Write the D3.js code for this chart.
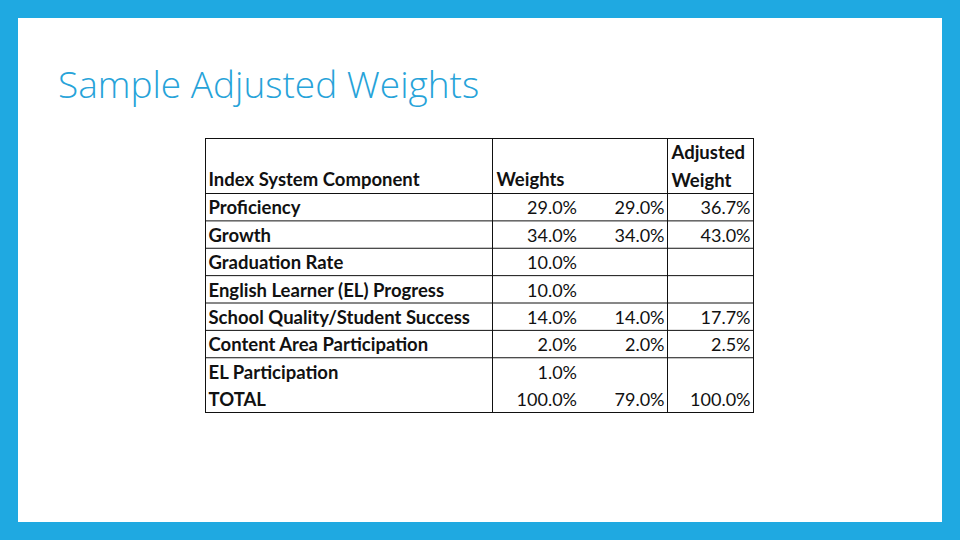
<!DOCTYPE html>
<html>
<head>
<meta charset="utf-8">
<script src="https://cdn.jsdelivr.net/npm/d3@7"></script>
<style>
  html, body { margin: 0; padding: 0; background: #1FA9E1; }
  svg { display: block; }
</style>
</head>
<body>
<svg id="chart" width="960" height="540"></svg>
<script>
// ---- data ----
const title = "Sample Adjusted Weights";
const headers = ["Index System Component", "Weights", "", "Adjusted\nWeight"];
const components = [
  "Proficiency",
  "Growth",
  "Graduation Rate",
  "English Learner (EL) Progress",
  "School Quality/Student Success",
  "Content Area Participation",
  "EL Participation",
  "TOTAL"
];
const weights = [29.0, 34.0, 10.0, 10.0, 14.0, 2.0, 1.0, 100.0];
const retained = [29.0, 34.0, null, null, 14.0, 2.0, null, 79.0];
const adjusted = [36.7, 43.0, null, null, 17.7, 2.5, null, 100.0];

// ---- layout ----
const svg = d3.select("#chart");
const W = 960, H = 540;

svg.append("rect").attr("x", 0).attr("y", 0).attr("width", W).attr("height", H).attr("fill", "#1FA9E1");
svg.append("rect").attr("x", 18).attr("y", 18).attr("width", 924).attr("height", 504).attr("fill", "#ffffff");

svg.append("text")
  .attr("x", 58).attr("y", 98)
  .attr("font-family", "'Open Sans', sans-serif")
  .attr("font-weight", 300)
  .attr("font-size", 37)
  .attr("fill", "#27A3D9")
  .text(title);

const fmt = d3.format(".1f");
const cols = ["label", "weights", "retained", "adjusted"];
const x = d3.scaleOrdinal().domain(cols).range([205.5, 492.5, 580, 667.5]);
const xRight = 753.5;
const colEnd = {label: 492.5, weights: 580, retained: 667.5, adjusted: 753.5};
const tableTop = 138.5, headerBottom = 193.5, tableBottom = 412.5;
const y = d3.scaleBand().domain(d3.range(components.length)).range([headerBottom, tableBottom]);

const g = svg.append("g");
const font = "Lato, 'Open Sans', sans-serif";
const fsLabel = 18.5;
const fsNum = 18;

// lines
g.append("rect")
  .attr("x", x("label")).attr("y", tableTop)
  .attr("width", xRight - x("label")).attr("height", tableBottom - tableTop)
  .attr("fill", "none").attr("stroke", "#111").attr("stroke-width", 1);
[x("weights"), x("adjusted")].forEach(xx => {
  g.append("line").attr("x1", xx).attr("x2", xx).attr("y1", tableTop).attr("y2", tableBottom)
    .attr("stroke", "#111").attr("stroke-width", 1);
});
const hLines = [headerBottom].concat(d3.range(1, components.length - 1).map(i => y(i)));
g.selectAll("line.h").data(hLines).join("line")
  .attr("class", "h")
  .attr("x1", x("label")).attr("x2", xRight)
  .attr("y1", d => d).attr("y2", d => d)
  .attr("stroke", "#111").attr("stroke-width", 1);

// headers
g.append("text").attr("x", x("label") + 3).attr("y", 186)
  .attr("font-family", font).attr("font-weight", 700).attr("font-size", fsLabel).attr("fill", "#111")
  .text(headers[0]);
g.append("text").attr("x", x("weights") + 4).attr("y", 186)
  .attr("font-family", font).attr("font-weight", 700).attr("font-size", fsLabel).attr("fill", "#111")
  .text(headers[1]);
headers[3].split("\n").forEach((t, i) => {
  g.append("text").attr("x", x("adjusted") + 4).attr("y", 159 + i * 27.5)
    .attr("font-family", font).attr("font-weight", 700).attr("font-size", fsLabel).attr("fill", "#111")
    .text(t);
});

// rows
const rows = components.map((c, i) => ({c, w: weights[i], r: retained[i], a: adjusted[i], i}));
const rg = g.selectAll("g.row").data(rows).join("g").attr("class", "row");
const base = d => y(d.i) + y.bandwidth() - 6.5;
rg.append("text").attr("x", x("label") + 3).attr("y", base)
  .attr("font-family", font).attr("font-weight", 700).attr("font-size", fsLabel).attr("fill", "#111")
  .text(d => d.c);
[["w", "weights"], ["r", "retained"], ["a", "adjusted"]].forEach(([k, col]) => {
  rg.filter(d => d[k] != null).append("text")
    .attr("x", colEnd[col] - 3).attr("y", base)
    .attr("text-anchor", "end")
    .attr("font-family", font).attr("font-weight", 400).attr("font-size", fsNum).attr("fill", "#111")
    .text(d => fmt(d[k]) + "%");
});
</script>
</body>
</html>
